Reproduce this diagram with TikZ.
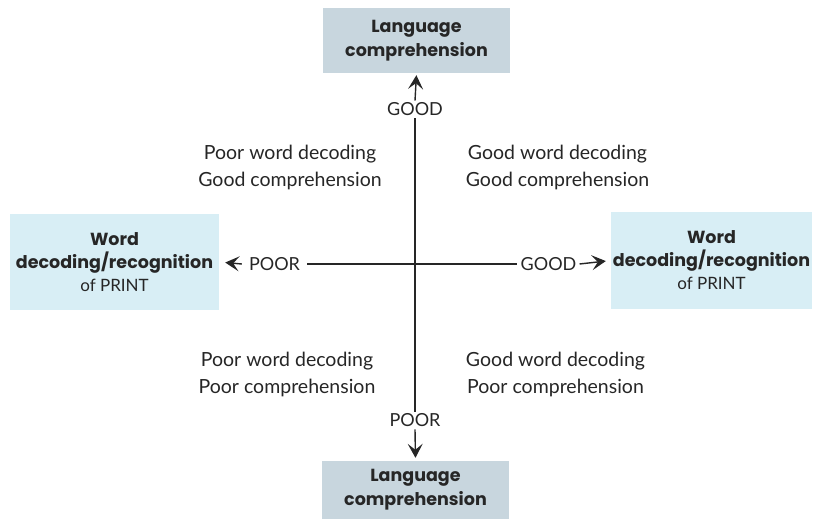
\documentclass[tikz,border=0pt]{standalone}
\usepackage{fontspec}
\setmainfont{Lato}
\newfontfamily\boxfont{Poppins}
\usetikzlibrary{arrows.meta}
\definecolor{txt}{HTML}{262626}
\definecolor{topfill}{HTML}{C8D6DE}
\definecolor{sidefill}{HTML}{D8EEF5}
\tikzset{
  x=1pt,y=-1pt,
  every node/.style={text=txt},
  vbox/.style={fill=topfill,draw=none,align=center,inner sep=0pt,
    font=\boxfont\fontsize{17.5}{24}\selectfont\bfseries},
  hbox/.style={fill=sidefill,draw=none,align=center,inner sep=0pt,
    font=\boxfont\fontsize{17.5}{23}\selectfont\bfseries},
  axlab/.style={inner sep=2pt,font=\fontsize{18}{22}\selectfont},
  quad/.style={align=center,inner sep=0pt,font=\fontsize{19.5}{27}\selectfont},
  axis/.style={draw=txt,line width=1.4pt},
  arr/.style={axis,-{Stealth[length=14pt,width=15pt,inset=6pt]}},
}
\begin{document}
\begin{tikzpicture}
\useasboundingbox (0,0) rectangle (817,520);
% boxes
\node[vbox,minimum width=187,minimum height=65] (lt) at (416.5,40.5) {Language\\comprehension};
\node[vbox,minimum width=187,minimum height=58] (lb) at (415.5,490) {Language\\comprehension};
\node[hbox,minimum width=209,minimum height=96] (wl) at (114.5,262) {Word\\decoding/recognition\\{\normalfont\fontsize{17}{22}\selectfont of PRINT}};
\node[hbox,minimum width=201,minimum height=97] (wr) at (711.5,260.5) {Word\\decoding/recognition\\{\normalfont\fontsize{17}{22}\selectfont of PRINT}};
% axis labels
\node[axlab] (tg) at (415,109.5) {GOOD};
\node[axlab] (bp) at (415,420.5) {POOR};
\node[axlab,inner xsep=7pt] (lp) at (274.5,264) {POOR};
\node[axlab,inner xsep=3pt] (rg) at (548.5,264) {GOOD};
% axes
\draw[axis] (tg.south) -- (bp.north);
\draw[axis] (lp.east) -- (rg.west);
\draw[arr,shorten >=2pt] (tg.north) -- (lt.south);
\draw[arr,shorten >=3pt] (bp.south) -- (lb.north);
\draw[arr,shorten >=6pt] (lp.west) -- (wl.east);
\draw[arr,shorten >=5pt] (rg.east) -- (wr.west);
% quadrant texts
\node[quad] (q1) at (290,167) {Poor word decoding\\Good comprehension};
\node[quad] (q2) at (557.5,167) {Good word decoding\\Good comprehension};
\node[quad] (q3) at (287,374) {Poor word decoding\\Poor comprehension};
\node[quad] (q4) at (555.5,374) {Good word decoding\\Poor comprehension};
\end{tikzpicture}
\end{document}
